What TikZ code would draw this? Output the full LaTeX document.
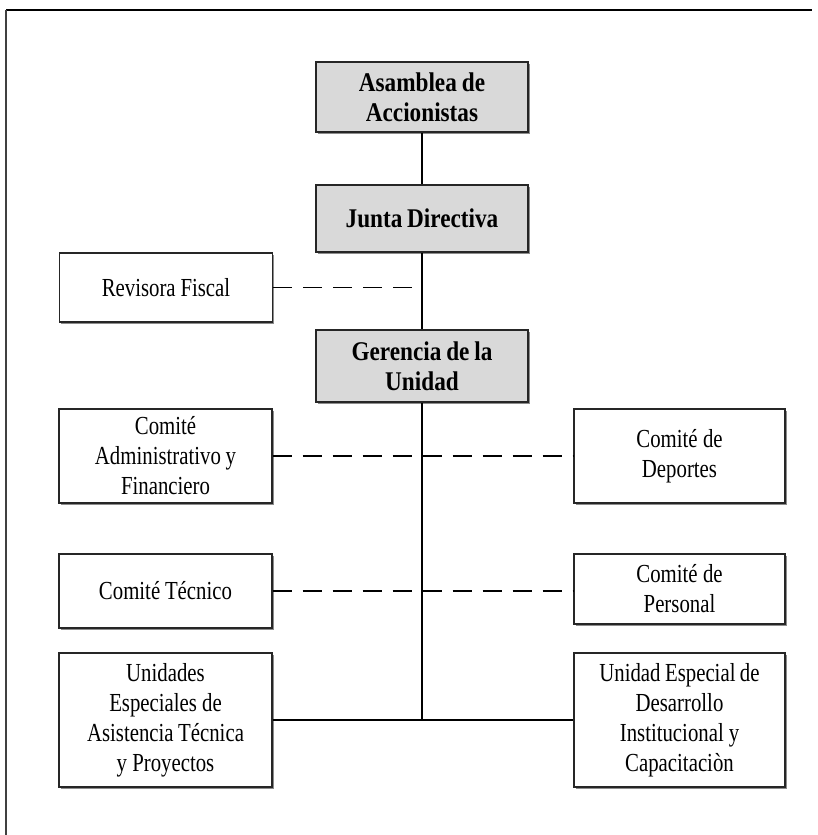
\documentclass[tikz,border=0pt]{standalone}
\usepackage{fontspec}
\setmainfont{Liberation Serif}[FakeStretch=0.80,BoldFeatures={FakeStretch=0.86}]
\usetikzlibrary{shadows}
\newcommand\tightspaces{\spaceskip=0.15em plus 0.05em minus 0.03em\relax}
\begin{document}
\begin{tikzpicture}[x=1pt,y=-1pt,
  orgbox/.style={draw=black!85, line width=1.2pt, fill=white, inner sep=0pt,
    align=center, text width=#1, font=\fontsize{26}{30}\selectfont,
    execute at begin node=\tightspaces,
    drop shadow={shadow xshift=1.5pt, shadow yshift=-1.5pt, fill=black!45, opacity=1}},
  orgbox/.default=205pt,
  headbox/.style={orgbox=205pt, fill=black!15, font=\fontsize{27}{30}\selectfont\bfseries},
  solidlink/.style={draw=black, line width=1.2pt},
  dashlink/.style={draw=black, line width=1.2pt, dash pattern=on 19pt off 11pt}]
\useasboundingbox (0,0) rectangle (817,835);
% outer frame
\draw[black, line width=1.5pt] (6,10) -- (812,10);
\draw[black!75, line width=2.5pt] (6,9.5) -- (6,835);

% line of command
\node[headbox, minimum width=212pt, minimum height=70pt] (asam) at (422,97) {Asamblea de\\Accionistas};
\node[headbox, minimum width=212pt, minimum height=67pt] (junta) at (422,218.5) {Junta Directiva};
\node[headbox, minimum width=212pt, minimum height=72pt] (gere) at (422,366) {Gerencia de la\\Unidad};

% advisory and committee boxes
\node[orgbox, minimum width=213pt, minimum height=69pt] (revi) at (166,287.5) {Revisora Fiscal};
\node[orgbox, minimum width=213pt, minimum height=94pt] (adm) at (165.5,456) {Comité\\Administrativo y\\Financiero};
\node[orgbox, minimum width=211pt, minimum height=94pt] (dep) at (679.5,456) {Comité de\\Deportes};
\node[orgbox, minimum width=213pt, minimum height=74pt] (tec) at (165.5,591) {Comité Técnico};
\node[orgbox, minimum width=211pt, minimum height=70pt] (per) at (679.5,589) {Comité de\\Personal};
\node[orgbox, minimum width=213pt, minimum height=134pt] (uni) at (165.5,720) {Unidades\\Especiales de\\Asistencia Técnica\\y Proyectos};
\node[orgbox, minimum width=211pt, minimum height=134pt] (esp) at (679.5,720) {Unidad Especial de\\Desarrollo\\Institucional y\\Capacitaciòn};

% connectors
\draw[solidlink] (asam.south) -- (junta.north);
\draw[solidlink] (junta.south) -- (gere.north);
\draw[dashlink] (revi.east) -- (revi.east -| gere.north);
\coordinate (base) at (gere.south |- uni.east);
\draw[solidlink] (gere.south) -- (base);
\draw[solidlink] (uni.east) -- (esp.west);
\draw[dashlink] (adm.east) -- (dep.west);
\draw[dashlink] (tec.east) -- (tec.east -| per.west);
\end{tikzpicture}
\end{document}
